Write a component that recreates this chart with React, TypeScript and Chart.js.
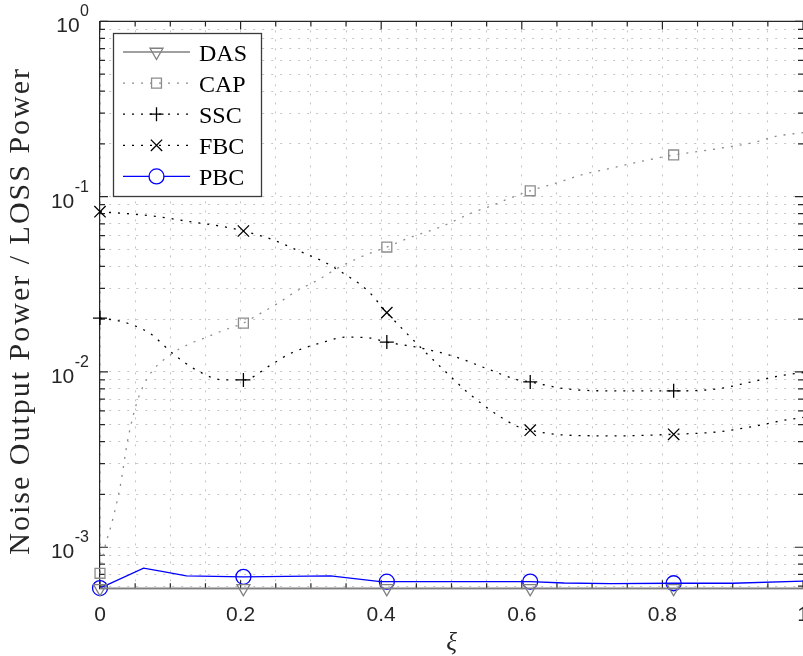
import React, { useEffect, useRef } from 'react';
import { Chart, registerables } from 'chart.js';

Chart.register(...registerables);

// ---------- data ----------
const seriesNames = ['DAS', 'CAP', 'SSC', 'FBC', 'PBC'];

const dasX = [0, 0.204, 0.408, 0.612, 0.816, 1];
const dasY = [5.83e-4, 5.83e-4, 5.83e-4, 5.83e-4, 5.83e-4, 5.83e-4];

const capX = [0, 0.007, 0.0167, 0.0285, 0.04, 0.052, 0.062, 0.075, 0.102, 0.128, 0.152, 0.176, 0.204, 0.223, 0.252, 0.28, 0.309, 0.337, 0.366, 0.389, 0.408, 0.437, 0.484, 0.532, 0.551, 0.58, 0.612, 0.65, 0.69, 0.719, 0.757, 0.783, 0.816, 0.859, 0.897, 0.935, 0.959, 1];
const capY = [7.1e-4, 1.0e-3, 1.37e-3, 2.2e-3, 4.2e-3, 6.6e-3, 8.4e-3, 0.0102, 0.0127, 0.0145, 0.0158, 0.0173, 0.019, 0.021, 0.0245, 0.029, 0.0333, 0.0389, 0.0444, 0.0484, 0.0516, 0.0577, 0.0671, 0.0818, 0.087, 0.097, 0.108, 0.12, 0.135, 0.143, 0.155, 0.163, 0.173, 0.183, 0.193, 0.206, 0.22, 0.232];

const sscX = [0, 0.033, 0.071, 0.104, 0.138, 0.176, 0.204, 0.242, 0.27, 0.313, 0.351, 0.38, 0.408, 0.46, 0.508, 0.546, 0.593, 0.612, 0.664, 0.735, 0.816, 0.878, 0.926, 0.973, 1];
const sscY = [0.0203, 0.0193, 0.0166, 0.0127, 0.0102, 0.009, 0.009, 0.0109, 0.0127, 0.0146, 0.0158, 0.0157, 0.0148, 0.0136, 0.0121, 0.0106, 0.00905, 0.00877, 0.008, 0.0078, 0.0078, 0.008, 0.00877, 0.0096, 0.0099];

const fbcX = [0, 0.033, 0.081, 0.128, 0.176, 0.204, 0.247, 0.28, 0.318, 0.346, 0.38, 0.408, 0.432, 0.46, 0.499, 0.522, 0.546, 0.57, 0.593, 0.612, 0.664, 0.735, 0.816, 0.878, 0.926, 0.973, 1];
const fbcY = [0.0821, 0.0804, 0.077, 0.072, 0.0674, 0.0637, 0.0566, 0.0496, 0.0426, 0.0366, 0.0293, 0.0218, 0.0173, 0.0133, 0.0094, 0.0077, 0.00645, 0.00553, 0.0049, 0.00465, 0.00436, 0.00432, 0.00441, 0.00455, 0.00486, 0.0053, 0.0055];

const pbcX = [0, 0.062, 0.09, 0.123, 0.204, 0.328, 0.399, 0.408, 0.541, 0.612, 0.66, 0.726, 0.816, 0.9, 1];
const pbcY = [5.85e-4, 7.6e-4, 7.26e-4, 6.86e-4, 6.78e-4, 6.86e-4, 6.37e-4, 6.36e-4, 6.36e-4, 6.37e-4, 6.25e-4, 6.2e-4, 6.23e-4, 6.23e-4, 6.4e-4];

const markerX = [0, 0.204, 0.408, 0.612, 0.816];

const xTickValues = [0, 0.05, 0.1, 0.15, 0.2, 0.25, 0.3, 0.35, 0.4, 0.45, 0.5, 0.55, 0.6, 0.65, 0.7, 0.75, 0.8, 0.85, 0.9, 0.95, 1];
const xLabelValues = [0, 0.2, 0.4, 0.6, 0.8, 1];
const xLabelTexts = ['0', '0.2', '0.4', '0.6', '0.8', '1'];

const yTickValues = [6e-4, 7e-4, 8e-4, 9e-4, 1e-3, 2e-3, 3e-3, 4e-3, 5e-3, 6e-3, 7e-3, 8e-3, 9e-3, 1e-2, 2e-2, 3e-2, 4e-2, 5e-2, 6e-2, 7e-2, 8e-2, 9e-2, 1e-1, 2e-1, 3e-1, 4e-1, 5e-1, 6e-1, 7e-1, 8e-1, 9e-1, 1];
const yDecades = [1e-3, 1e-2, 1e-1, 1];
const yDecadeExps = ['-3', '-2', '-1', '0'];
const yMin = 5.83e-4;
const yMax = 1;

const xTitle = 'ξ';
const yTitle = 'Noise Output Power / LOSS Power';

// ---------- styles ----------
const AXIS = '#262626';
const GRID = '#c4c4c4';
const DOT = [2, 7];

const styles = [
  { color: '#808080', dash: [] as number[], width: 1.6, marker: 'triDown', r: 7.5 },
  { color: '#8c8c8c', dash: DOT, width: 1.3, marker: 'rect', r: 7 },
  { color: '#000000', dash: DOT, width: 1.3, marker: 'cross', r: 7 },
  { color: '#000000', dash: DOT, width: 1.3, marker: 'crossRot', r: 8 },
  { color: '#0000ff', dash: [] as number[], width: 1.3, marker: 'circle', r: 7.5 },
];

const seriesX = [dasX, capX, sscX, fbcX, pbcX];
const seriesY = [dasY, capY, sscY, fbcY, pbcY];

function drawMarker(ctx: CanvasRenderingContext2D, kind: string, cx: number, cy: number, r: number) {
  ctx.beginPath();
  if (kind === 'circle') {
    ctx.arc(cx, cy, r, 0, Math.PI * 2);
  } else if (kind === 'rect') {
    const s = r * Math.SQRT1_2;
    ctx.rect(cx - s, cy - s, 2 * s, 2 * s);
  } else if (kind === 'cross') {
    ctx.moveTo(cx - r, cy); ctx.lineTo(cx + r, cy);
    ctx.moveTo(cx, cy - r); ctx.lineTo(cx, cy + r);
  } else if (kind === 'crossRot') {
    const s = r * Math.SQRT1_2;
    ctx.moveTo(cx - s, cy - s); ctx.lineTo(cx + s, cy + s);
    ctx.moveTo(cx - s, cy + s); ctx.lineTo(cx + s, cy - s);
  } else if (kind === 'triDown') {
    const h = r * Math.sqrt(3) / 2;
    ctx.moveTo(cx, cy + r);
    ctx.lineTo(cx - h, cy - r / 2);
    ctx.lineTo(cx + h, cy - r / 2);
    ctx.closePath();
  }
  ctx.stroke();
}

const decoPlugin = {
  id: 'deco',
  beforeDatasetsDraw(chart: any) {
    const { ctx, chartArea: a, scales } = chart;
    const x = scales.x;
    const y = scales.y;
    ctx.save();
    ctx.strokeStyle = AXIS;
    ctx.lineWidth = 1.2;
    ctx.beginPath();
    ctx.moveTo(a.left, a.top);
    ctx.lineTo(a.right, a.top);
    ctx.stroke();
    for (const v of yTickValues) {
      const p = y.getPixelForValue(v);
      const major = yDecades.includes(v);
      const len = major ? 8 : 5;
      ctx.beginPath();
      ctx.moveTo(a.left, p); ctx.lineTo(a.left + len, p);
      ctx.moveTo(a.right, p); ctx.lineTo(a.right - len, p);
      ctx.stroke();
    }
    for (const v of xTickValues) {
      const p = x.getPixelForValue(v);
      const major = xLabelValues.includes(v);
      const len = major ? 8 : 5;
      ctx.beginPath();
      ctx.moveTo(p, a.bottom); ctx.lineTo(p, a.bottom - len);
      ctx.moveTo(p, a.top); ctx.lineTo(p, a.top + len);
      ctx.stroke();
    }
    ctx.restore();
  },
  afterDatasetsDraw(chart: any) {
    const { ctx, chartArea: a, scales } = chart;
    const x = scales.x;
    const y = scales.y;
    ctx.save();
    ctx.fillStyle = AXIS;
    // y tick labels 10^n
    yDecades.forEach((v, i) => {
      const p = y.getPixelForValue(v);
      const right = 89;
      ctx.font = '16px "Liberation Sans", Arial, sans-serif';
      ctx.textAlign = 'right';
      ctx.textBaseline = 'alphabetic';
      const sw = ctx.measureText(yDecadeExps[i]).width;
      ctx.fillText(yDecadeExps[i], right, p - 5);
      ctx.font = '21px "Liberation Sans", Arial, sans-serif';
      ctx.fillText('10', right - sw - 0.5, p + 11);
    });
    // x tick labels
    ctx.font = '21px "Liberation Sans", Arial, sans-serif';
    ctx.textAlign = 'center';
    ctx.textBaseline = 'alphabetic';
    xLabelValues.forEach((v, i) => {
      ctx.fillText(xLabelTexts[i], x.getPixelForValue(v), 621);
    });
    // x title
    ctx.font = 'italic 25px "Liberation Serif", "Times New Roman", serif';
    ctx.fillText(xTitle, (a.left + a.right) / 2, 650);
    // y title
    ctx.save();
    ctx.translate(29, (a.top + a.bottom) / 2 + 6);
    ctx.rotate(-Math.PI / 2);
    ctx.font = '30px "Liberation Serif", "Times New Roman", serif';
    (ctx as any).letterSpacing = '2px';
    ctx.textAlign = 'center';
    ctx.fillText(yTitle, 0, 0);
    ctx.restore();

    // legend
    const bx = 113.5, by = 33.5, bw = 148, bh = 163;
    ctx.fillStyle = '#ffffff';
    ctx.fillRect(bx, by, bw, bh);
    ctx.strokeStyle = '#3a3a3a';
    ctx.lineWidth = 1.3;
    ctx.strokeRect(bx, by, bw, bh);
    seriesNames.forEach((name, i) => {
      const s = styles[i];
      const cy = 52 + i * 31.1;
      ctx.save();
      ctx.strokeStyle = s.color;
      ctx.lineWidth = s.width;
      ctx.setLineDash(s.dash);
      ctx.beginPath();
      ctx.moveTo(123, cy);
      ctx.lineTo(190, cy);
      ctx.stroke();
      ctx.setLineDash([]);
      ctx.lineWidth = 1.3;
      ctx.fillStyle = '#ffffff';
      if (s.marker === 'circle') {
        ctx.beginPath();
        ctx.arc(156.5, cy, s.r - 0.5, 0, Math.PI * 2);
        ctx.fill();
      }
      drawMarker(ctx, s.marker, 156.5, cy, s.r);
      ctx.restore();
      ctx.fillStyle = '#000000';
      ctx.font = '24px "Liberation Serif", "Times New Roman", serif';
      ctx.textAlign = 'left';
      ctx.textBaseline = 'alphabetic';
      ctx.fillText(name, 199, cy + 8.5);
    });
    ctx.restore();
  },
};

export default function App() {
  const ref = useRef<HTMLCanvasElement | null>(null);
  useEffect(() => {
    if (!ref.current) return;
    const datasets = seriesNames.map((name, i) => {
      const s = styles[i];
      const xs = seriesX[i];
      const ys = seriesY[i];
      const isMarker = (ctx: any) => {
        const raw = ctx.raw;
        return raw && markerX.includes(raw.x);
      };
      return {
        label: name,
        data: xs.map((xv, k) => ({ x: xv, y: ys[k] })),
        borderColor: s.color,
        borderWidth: s.width,
        borderDash: s.dash,
        borderCapStyle: 'butt',
        cubicInterpolationMode: i === 0 || i === 4 ? 'default' : 'monotone',
        tension: 0,
        fill: false,
        clip: false,
        pointStyle: s.marker === 'triDown' ? 'triangle' : s.marker,
        rotation: s.marker === 'triDown' ? 180 : 0,
        pointRadius: (ctx: any) => (isMarker(ctx) ? s.r : 0),
        pointHoverRadius: 0,
        pointBorderColor: s.color,
        pointBackgroundColor: 'rgba(0,0,0,0)',
        pointBorderWidth: 1.3,
      };
    });
    const chart = new Chart(ref.current, {
      type: 'line',
      data: { datasets } as any,
      options: {
        animation: false,
        responsive: false,
        devicePixelRatio: 1,
        events: [],
        layout: { padding: { top: 21.4, right: 0, left: 0, bottom: 0 }, autoPadding: false },
        plugins: { legend: { display: false }, tooltip: { enabled: false }, title: { display: false } },
        scales: {
          x: {
            type: 'linear',
            min: 0,
            max: 1,
            afterBuildTicks: (scale: any) => {
              scale.ticks = xTickValues.map((v) => ({ value: v }));
            },
            afterFit: (scale: any) => {
              scale.height = 656 - 588.3;
              scale.paddingLeft = 0;
              scale.paddingRight = 0;
            },
            ticks: { display: false },
            grid: { color: GRID, lineWidth: 1, drawTicks: false },
            border: { display: true, color: AXIS, width: 1.2, dash: DOT },
          },
          y: {
            type: 'logarithmic',
            min: yMin,
            max: yMax,
            afterBuildTicks: (scale: any) => {
              scale.ticks = yTickValues.map((v) => ({ value: v, major: yDecades.includes(v) }));
            },
            afterFit: (scale: any) => {
              scale.width = 100;
              scale.paddingTop = 0;
              scale.paddingBottom = 0;
            },
            ticks: { display: false },
            grid: { color: GRID, lineWidth: 1, drawTicks: false },
            border: { display: true, color: AXIS, width: 1.2, dash: DOT },
          },
        },
      } as any,
      plugins: [decoPlugin],
    });
    return () => chart.destroy();
  }, []);
  return (
    <div style={{ position: 'fixed', left: 0, top: 0, width: 803, height: 656, background: '#fff' }}>
      <canvas ref={ref} width={803} height={656} style={{ display: 'block' }} />
    </div>
  );
}
